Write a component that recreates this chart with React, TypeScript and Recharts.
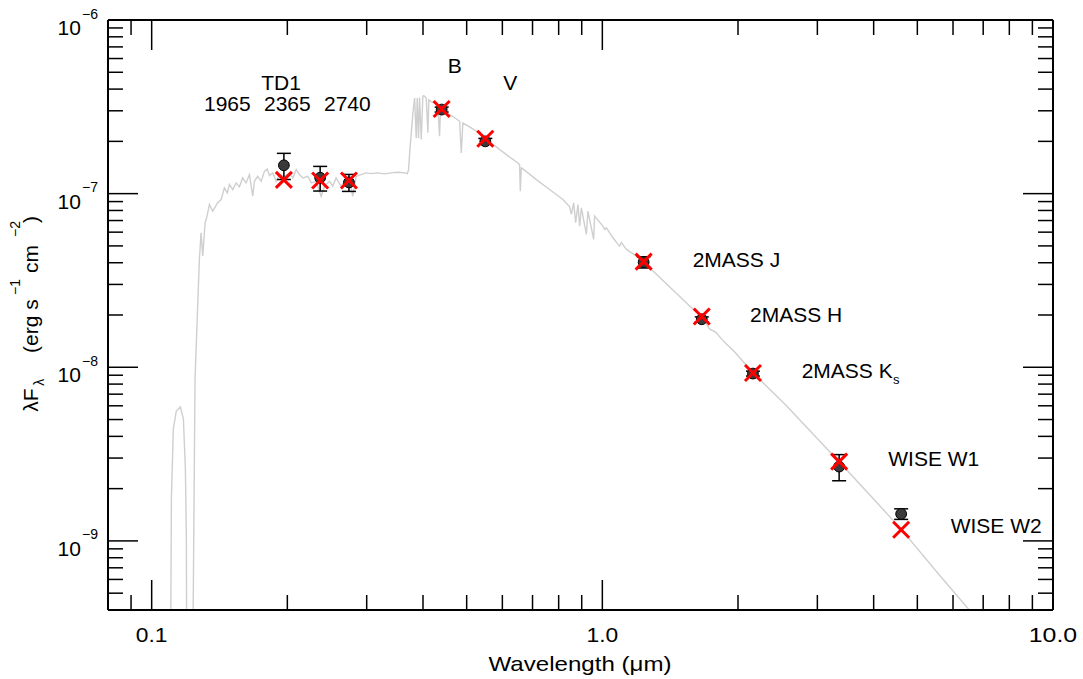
import React from 'react';
import { ComposedChart, Line, Scatter, XAxis, YAxis, ErrorBar, Customized } from 'recharts';

// ---- model spectrum (wavelength in micron, lambda*F_lambda in erg s^-1 cm^-2)
const specLam = [
  0.1095, 0.1106, 0.1117, 0.1134, 0.1158, 0.1176, 0.1188, 0.1194, 0.1200, 0.1222,
  0.1248, 0.1276, 0.1287, 0.1298, 0.1314, 0.1327, 0.1343, 0.1366, 0.1401, 0.1426,
  0.1450, 0.1471, 0.1488, 0.1513, 0.1540, 0.1566, 0.1592, 0.1620, 0.1648, 0.1676,
  0.1690, 0.1719, 0.1750, 0.1779, 0.1804, 0.1826, 0.1857, 0.1889, 0.1921, 0.1971,
  0.2022, 0.2057, 0.2093, 0.2128, 0.2165, 0.2221, 0.2260, 0.2317, 0.2377, 0.2418,
  0.2480, 0.2522, 0.2566, 0.2633, 0.2678, 0.2747, 0.2794, 0.2843, 0.2916, 0.2992,
  0.3069, 0.3176, 0.3286, 0.3401, 0.3518, 0.3641, 0.3692, 0.3716, 0.3741, 0.3799,
  0.3832, 0.3864, 0.3884, 0.3910, 0.3930, 0.3964, 0.3997, 0.4017, 0.4067, 0.4101,
  0.4121, 0.4172, 0.4244, 0.4315, 0.4353, 0.4375, 0.4466, 0.4660, 0.4823, 0.4864,
  0.4904, 0.5117, 0.5386, 0.5669, 0.6122, 0.6496, 0.6552, 0.6576, 0.6610, 0.6664,
  0.7138, 0.7638, 0.8178, 0.8463, 0.8537, 0.8638, 0.8726, 0.8829, 0.8906, 0.8985,
  0.9216, 0.9290, 0.9565, 0.9614, 1.003, 1.012, 1.021, 1.056, 1.083, 1.092,
  1.102, 1.131, 1.190, 1.231, 1.590, 1.659, 1.731, 1.784, 1.840, 1.888,
  1.967, 2.160, 2.562, 3.353, 3.923, 4.612, 5.608, 6.709,
];
const specFlux = [
  1e-11, 1.75e-9, 4.42e-9, 5.60e-9, 5.91e-9, 5.04e-9, 2.60e-9, 1.03e-9, 1e-11, 1e-11,
  8.55e-9, 4.18e-8, 5.95e-8, 4.37e-8, 6.80e-8, 7.42e-8, 8.66e-8, 7.92e-8, 8.86e-8, 9.25e-8,
  1.080e-7, 1.011e-7, 1.128e-7, 1.056e-7, 1.153e-7, 1.094e-7, 1.232e-7, 1.153e-7, 1.287e-7, 9.66e-8,
  1.178e-7, 1.259e-7, 1.178e-7, 1.345e-7, 1.388e-7, 1.271e-7, 1.317e-7, 1.178e-7, 1.287e-7, 1.259e-7,
  1.317e-7, 1.232e-7, 1.375e-7, 1.287e-7, 1.232e-7, 1.259e-7, 1.153e-7, 1.178e-7, 9.66e-8, 1.103e-7,
  1.178e-7, 1.103e-7, 1.232e-7, 1.103e-7, 1.178e-7, 1.205e-7, 9.66e-8, 1.259e-7, 1.287e-7, 1.317e-7,
  1.304e-7, 1.317e-7, 1.299e-7, 1.317e-7, 1.327e-7, 1.317e-7, 1.304e-7, 1.375e-7, 1.792e-7, 2.91e-7,
  3.55e-7, 2.09e-7, 3.55e-7, 2.09e-7, 3.58e-7, 2.05e-7, 3.63e-7, 3.67e-7, 3.55e-7, 2.24e-7,
  3.47e-7, 3.39e-7, 3.32e-7, 3.18e-7, 2.14e-7, 3.11e-7, 2.97e-7, 2.78e-7, 2.61e-7, 1.716e-7,
  2.55e-7, 2.39e-7, 2.19e-7, 1.958e-7, 1.677e-7, 1.502e-7, 1.469e-7, 1.032e-7, 1.406e-7, 1.388e-7,
  1.205e-7, 1.056e-7, 9.25e-8, 8.40e-8, 7.59e-8, 8.86e-8, 6.80e-8, 8.66e-8, 6.50e-8, 8.29e-8,
  5.82e-8, 7.92e-8, 5.45e-8, 7.42e-8, 6.50e-8, 6.22e-8, 6.36e-8, 5.57e-8, 5.10e-8, 4.99e-8,
  5.22e-8, 4.77e-8, 4.37e-8, 4.06e-8, 2.16e-8, 1.96e-8, 1.658e-8, 1.593e-8, 1.452e-8, 1.359e-8,
  1.223e-8, 9.26e-9, 6.01e-9, 2.86e-9, 1.84e-9, 1.161e-9, 6.32e-10, 3.67e-10,
];

// ---- photometry
const bandNames = ['TD1 1965', 'TD1 2365', 'TD1 2740', 'B', 'V', '2MASS J', '2MASS H', '2MASS Ks', 'WISE W1', 'WISE W2'];
const bandLam = [0.1965, 0.2365, 0.274, 0.44, 0.55, 1.235, 1.662, 2.159, 3.353, 4.603];
const obsFlux = [1.456e-7, 1.235e-7, 1.16e-7, 3.05e-7, 2.0e-7, 4.03e-8, 1.89e-8, 9.2e-9, 2.68e-9, 1.43e-9];
const obsErr = [2.5e-8, 2.0e-8, 1.3e-8, 1.0e-8, 0.8e-8, 0.3e-8, 0.06e-8, 0.3e-9, 0.46e-9, 0.1e-9];
const modelFlux = [1.20e-7, 1.19e-7, 1.19e-7, 3.07e-7, 2.07e-7, 4.06e-8, 1.96e-8, 9.27e-9, 2.86e-9, 1.16e-9];

// ---- axes
const xDomain = [0.08, 10];
const yDomain = [4e-10, 1e-6];
const xMajorTicks = [0.1, 1, 10];
const xTickLabels = ['0.1', '1.0', '10.0'];
const xMinorTicks = [0.09, 0.2, 0.3, 0.4, 0.5, 0.6, 0.7, 0.8, 0.9, 2, 3, 4, 5, 6, 7, 8, 9];
const yMajorTicks = [1e-9, 1e-8, 1e-7, 1e-6];
const yTickExponents = ['\u22129', '\u22128', '\u22127', '\u22126'];
const yMinorTicks = [
  5e-10, 6e-10, 7e-10, 8e-10, 9e-10,
  2e-9, 3e-9, 4e-9, 5e-9, 6e-9, 7e-9, 8e-9, 9e-9,
  2e-8, 3e-8, 4e-8, 5e-8, 6e-8, 7e-8, 8e-8, 9e-8,
  2e-7, 3e-7, 4e-7, 5e-7, 6e-7, 7e-7, 8e-7, 9e-7,
];

const spectrum = specLam.map((lam, i) => ({ lam, f: specFlux[i] }));
const observed = bandLam.map((lam, i) => ({ name: bandNames[i], lam, f: obsFlux[i], err: obsErr[i] }));
const model = bandLam.map((lam, i) => ({ name: bandNames[i], lam, f: modelFlux[i] }));

const FONT = "'Liberation Sans', Arial, Helvetica, sans-serif";
const xTickWidths = [31.7, 31.7, 48.4];

const makeTick = (side: string) => (props: any) => {
  const { x, y, payload } = props;
  const v = payload.value;
  const isX = side === 'bottom' || side === 'top';
  const majors = isX ? xMajorTicks : yMajorTicks;
  const mi = majors.indexOf(v);
  const len = mi >= 0 ? 30 : 15;
  let line: any = null;
  if (side === 'bottom') line = <line x1={x} y1={y} x2={x} y2={y - len} />;
  if (side === 'top') line = <line x1={x} y1={y} x2={x} y2={y + len} />;
  if (side === 'left') line = <line x1={x} y1={y} x2={x + len} y2={y} />;
  if (side === 'right') line = <line x1={x} y1={y} x2={x - len} y2={y} />;
  let label: any = null;
  if (side === 'bottom' && mi >= 0) {
    label = (
      <text x={x} y={y + 31.7} textAnchor="middle" fontSize={20} fontFamily={FONT} fill="#000" stroke="none"
        textLength={xTickWidths[mi]} lengthAdjust="spacingAndGlyphs">
        {xTickLabels[mi]}
      </text>
    );
  }
  if (side === 'left' && mi >= 0) {
    label = (
      <text fontFamily={FONT} fill="#000" stroke="none">
        <tspan x={x - 50.5} y={y + 15} fontSize={21}>10</tspan>
        <tspan x={x - 26} y={y - 1.5} fontSize={14}>{yTickExponents[mi]}</tspan>
      </text>
    );
  }
  return (
    <g stroke="#000" strokeWidth={1.5}>
      {line}
      {label}
    </g>
  );
};

const Circle = (p: any) => (
  <circle cx={p.cx} cy={p.cy} r={5.4} fill="#3a3a3a" stroke="#000" strokeWidth={1} />
);
const Cross = (p: any) => (
  <g stroke="#ff0000" strokeWidth={3} strokeLinecap="butt">
    <line x1={p.cx - 8} y1={p.cy - 8} x2={p.cx + 8} y2={p.cy + 8} />
    <line x1={p.cx - 8} y1={p.cy + 8} x2={p.cx + 8} y2={p.cy - 8} />
  </g>
);

const Annotations = () => (
  <g fontFamily={FONT} fontSize={21} fill="#000">
    <text x={281} y={90} textAnchor="middle">TD1</text>
    <text x={204} y={111}>1965</text>
    <text x={264} y={111}>2365</text>
    <text x={324} y={111}>2740</text>
    <text x={447.7} y={72.7}>B</text>
    <text x={503.3} y={90}>V</text>
    <text x={692.7} y={267.3}>2MASS J</text>
    <text x={750} y={321.7}>2MASS H</text>
    <text>
      <tspan x={801.7} y={378.3}>2MASS K</tspan>
      <tspan x={893} y={384} fontSize={13}>s</tspan>
    </text>
    <text x={888.3} y={465.7}>WISE W1</text>
    <text x={950.7} y={533.3}>WISE W2</text>
    <text x={580} y={671} textAnchor="middle" textLength={183} lengthAdjust="spacingAndGlyphs">
      Wavelength ({'\u03bc'}m)
    </text>
    <text transform="translate(38,411.7) rotate(-90)">
      <tspan x={0} y={0}>{'\u03bb'}F</tspan>
      <tspan x={26} y={6} fontSize={14}>{'\u03bb'}</tspan>
      <tspan x={58.7} y={0}>(erg s</tspan>
      <tspan x={116.7} y={-18} fontSize={14}>{'\u22121'}</tspan>
      <tspan x={138.7} y={0}>cm</tspan>
      <tspan x={174.7} y={-18} fontSize={14}>{'\u22122'}</tspan>
      <tspan x={188.7} y={0}>)</tspan>
    </text>
  </g>
);

const axisLine = { stroke: '#000', strokeWidth: 2 };

export default function App() {
  return (
    <div style={{ position: 'absolute', left: 0, top: 0, background: '#fff' }}>
      <ComposedChart width={1083} height={679} margin={{ top: 10, right: 20, bottom: 19, left: 8 }}>
        <XAxis xAxisId={0} dataKey="lam" type="number" scale="log" domain={xDomain} allowDataOverflow
          orientation="bottom" height={50} ticks={[...xMinorTicks, ...xMajorTicks]} interval={0}
          tickSize={0} tickMargin={0} tickLine={false} axisLine={axisLine} tick={makeTick('bottom')} />
        <XAxis xAxisId="top" dataKey="lam" type="number" scale="log" domain={xDomain} allowDataOverflow
          orientation="top" height={10} ticks={[...xMinorTicks, ...xMajorTicks]} interval={0}
          tickSize={0} tickMargin={0} tickLine={false} axisLine={axisLine} tick={makeTick('top')} />
        <YAxis yAxisId={0} dataKey="f" type="number" scale="log" domain={yDomain} allowDataOverflow
          orientation="left" width={100} ticks={[...yMinorTicks, ...yMajorTicks]} interval={0}
          tickSize={0} tickMargin={0} tickLine={false} axisLine={axisLine} tick={makeTick('left')} />
        <YAxis yAxisId="right" dataKey="f" type="number" scale="log" domain={yDomain} allowDataOverflow
          orientation="right" width={10} ticks={[...yMinorTicks, ...yMajorTicks]} interval={0}
          tickSize={0} tickMargin={0} tickLine={false} axisLine={axisLine} tick={makeTick('right')} />
        <Line data={spectrum} dataKey="f" type="linear" stroke="#cfcfcf" strokeWidth={1.4}
          dot={false} activeDot={false} isAnimationActive={false} />
        <Scatter data={observed} dataKey="f" shape={Circle} isAnimationActive={false}>
          <ErrorBar dataKey="err" direction="y" width={7} stroke="#000" strokeWidth={1.5} isAnimationActive={false} />
        </Scatter>
        <Scatter data={model} dataKey="f" shape={Cross} isAnimationActive={false} />
        <Customized component={<Annotations />} />
      </ComposedChart>
    </div>
  );
}
